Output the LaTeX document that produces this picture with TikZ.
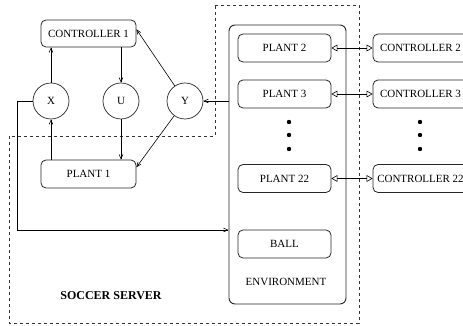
\documentclass[tikz,border=0pt]{standalone}
\usepackage{fontspec}
\setmainfont{Liberation Serif}
\usetikzlibrary{shapes.geometric, arrows}
\tikzstyle{box} = [rectangle, rounded corners=5pt, minimum width=93pt, minimum height=28pt, text centered, draw=black!85, line width=0.8pt, font=\fontsize{11}{13}\selectfont]
\tikzstyle{var} = [circle, minimum size=36pt, inner sep=0pt, draw=black!85, line width=0.7pt, font=\fontsize{11}{13}\selectfont]
\tikzstyle{arrow} = [semithick,->,>=angle 45]
\tikzstyle{link} = [semithick,<->,>=open triangle 60]

\begin{document}
\begin{tikzpicture}[x=1pt, y=1pt, node distance=46pt, semithick]
\useasboundingbox (0,0) rectangle (463,326);

% Server region
\draw [dashed, semithick, black!80] (215,321) -- (359,321) -- (359,3) -- (9,3) -- (9,190) -- (215,190) -- cycle;

% Local loop
\node (ctrlA) [box, minimum width=95pt, minimum height=27pt] at (88.5,292.5) {CONTROLLER 1};
\node (x) [var] at (51,225) {X};
\node (u) [var] at (121,225) {U};
\node (y) [var] at (185,225) {Y};
\node (plantA) [box, minimum width=95pt] at (88.5,152) {PLANT 1};

% Environment
\node (env) [rectangle, rounded corners=6pt, minimum width=117pt, minimum height=279pt, draw=black!85, line width=0.9pt] at (287.5,161.5) {};
\node (plantB) [box] at (284.5,278) {PLANT 2};
\node (plantC) [box, below of=plantB] {PLANT 3};
\node (plantV) [box] at (284.5,147.5) {PLANT 22};
\node (ball) [box] at (284.5,82) {BALL};
\node (envlabel) [font=\fontsize{11}{13}\selectfont] at (286,44) {ENVIRONMENT};

% Remote controllers
\node (ctrlB) [box, minimum width=95pt, right of=plantB, xshift=90pt] {CONTROLLER 2};
\node (ctrlC) [box, minimum width=95pt, right of=plantC, xshift=90pt] {CONTROLLER 3};
\node (ctrlV) [box, minimum width=95pt, right of=plantV, xshift=90pt] {CONTROLLER 22};

\foreach \dy in {204,191,177} {
  \fill (289,\dy) circle (2.2pt);
  \fill (420,\dy) circle (2.2pt);
}

\node (server) [font=\fontsize{12}{14}\selectfont\bfseries] at (111,30) {SOCCER SERVER};

% Arrows
\draw [arrow] (x) -- (x |- ctrlA.south);
\draw [arrow] (ctrlA.south -| u) -- (u);
\draw [arrow] (u) -- (u |- plantA.north);
\draw [arrow] (plantA.north -| x) -- (x);
\draw [arrow] (y) -- (ctrlA.5);
\draw [arrow] (y) -- (plantA.8);
\draw [arrow] (env.west |- y) -- (y);
\draw [arrow] (x.west) -- ++(-15,0) |- ([yshift=-65.5pt]env.west);
\draw [link] (plantB) -- (ctrlB);
\draw [link] (plantC) -- (ctrlC);
\draw [link] (plantV) -- (ctrlV);

\end{tikzpicture}
\end{document}
